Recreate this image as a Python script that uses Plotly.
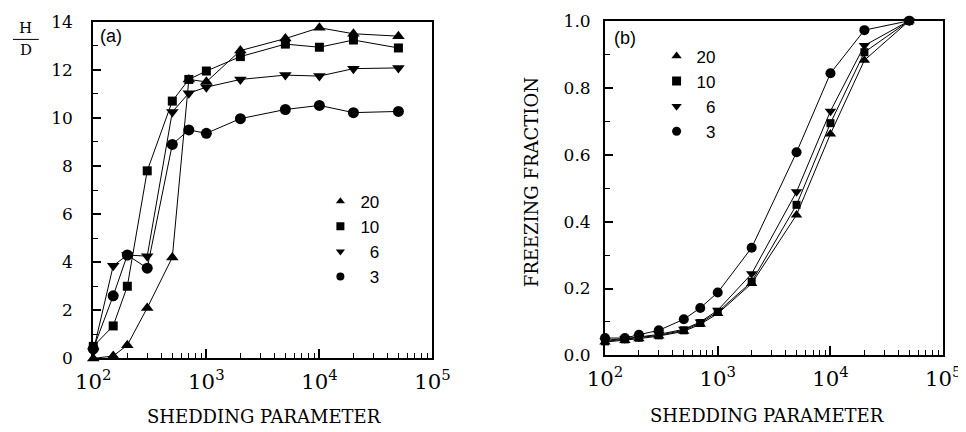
import plotly.graph_objects as go

# ---- data ----
shedding = [100, 150, 200, 300, 500, 700, 1000, 2000, 5000, 10000, 20000, 50000]

hd_20 = [0.0, 0.1, 0.55, 2.1, 4.2, 11.6, 11.5, 12.8, 13.3, 13.75, 13.5, 13.4]
hd_10 = [0.5, 1.35, 3.0, 7.8, 10.7, 11.6, 11.95, 12.55, 13.07, 12.94, 13.24, 12.91]
hd_6 = [0.3, 3.85, 4.3, 4.25, 10.25, 11.03, 11.28, 11.6, 11.78, 11.74, 12.05, 12.08]
hd_3 = [0.4, 2.6, 4.3, 3.75, 8.9, 9.5, 9.36, 9.97, 10.35, 10.52, 10.22, 10.27]

ff_20 = [0.04, 0.045, 0.05, 0.058, 0.072, 0.093, 0.125, 0.215, 0.42, 0.662, 0.882, 1.0]
ff_10 = [0.042, 0.048, 0.053, 0.06, 0.075, 0.097, 0.13, 0.22, 0.45, 0.694, 0.906, 1.0]
ff_6 = [0.045, 0.05, 0.055, 0.063, 0.078, 0.1, 0.135, 0.244, 0.489, 0.73, 0.926, 1.0]
ff_3 = [0.052, 0.052, 0.062, 0.075, 0.108, 0.142, 0.188, 0.322, 0.607, 0.843, 0.972, 1.0]

series_names = ["20", "10", "\u20076", "\u20073"]
symbols = ["triangle-up", "square", "triangle-down", "circle"]
marker_sizes = [11, 9, 11, 11]

# reference frame size, and figure size that fits inside the page's body margin
REF_W, REF_H = 966, 432
W, H = 958, 424
SERIF = "DejaVu Serif"
SANS = "Liberation Sans"

fig = go.Figure()

for ys, name, sym, ms in zip([hd_20, hd_10, hd_6, hd_3], series_names, symbols, marker_sizes):
    fig.add_trace(go.Scatter(x=shedding, y=ys, mode="lines+markers", xaxis="x", yaxis="y",
                             line=dict(color="black", width=1),
                             marker=dict(symbol=sym, size=ms, color="black"),
                             showlegend=False, cliponaxis=False))
    fig.add_trace(go.Scatter(x=[None], y=[None], mode="markers", xaxis="x", yaxis="y",
                             marker=dict(symbol=sym, size=8, color="black"),
                             name=name, legend="legend"))

for ys, name, sym, ms in zip([ff_20, ff_10, ff_6, ff_3], series_names, symbols, marker_sizes):
    fig.add_trace(go.Scatter(x=shedding, y=ys, mode="lines+markers", xaxis="x2", yaxis="y2",
                             line=dict(color="black", width=1),
                             marker=dict(symbol=sym, size=ms - 1, color="black"),
                             showlegend=False, cliponaxis=False))
    fig.add_trace(go.Scatter(x=[None], y=[None], mode="markers", xaxis="x2", yaxis="y2",
                             marker=dict(symbol=sym, size=9, color="black"),
                             name=name, legend="legend2"))


def px_x(p):
    return p / REF_W


def px_y(p):
    return 1 - p / REF_H


dom_xa = [px_x(86), px_x(428)]
dom_ya = [px_y(357), px_y(14)]
dom_xb = [px_x(602), px_x(943)]
dom_yb = [px_y(354), px_y(13)]

tickfont = dict(family=SERIF, size=17, color="black")
minor_log = dict(ticks="inside", ticklen=5, tickcolor="black", tickwidth=1, dtick="D1", showgrid=False)

base = dict(showline=True, linecolor="black", linewidth=2, mirror=True, automargin=False,
            ticks="inside", tickcolor="black", tickwidth=1.5, showgrid=False, zeroline=False)

x_main = dict(base, type="log", range=[2, 5], dtick=1, exponentformat="power", showexponent="all",
              ticklen=9, tickfont=tickfont, ticklabelstandoff=4, minor=minor_log)
x_top = dict(type="log", range=[2, 5], dtick=1, ticks="inside", ticklen=9, automargin=False,
             tickcolor="black", tickwidth=1.5, showticklabels=False, showgrid=False,
             zeroline=False, showline=False, side="top", minor=minor_log)


def y_main(rng, step, fmt, dtick_minor, dom, anchor, standoff):
    return dict(base, range=rng, tick0=0, dtick=step, tickformat=fmt, ticklen=8,
                domain=dom, anchor=anchor, tickfont=tickfont, ticklabelstandoff=standoff,
                minor=dict(ticks="inside", ticklen=5, tickcolor="black", tickwidth=1,
                           dtick=dtick_minor, showgrid=False))


def y_right(rng, step, dtick_minor, anchor, overlay):
    return dict(range=rng, tick0=0, dtick=step, ticks="inside", ticklen=8, tickcolor="black",
                tickwidth=1.5, showticklabels=False, showgrid=False, zeroline=False,
                showline=False, side="right", anchor=anchor, overlaying=overlay, automargin=False,
                minor=dict(ticks="inside", ticklen=5, tickcolor="black", tickwidth=1,
                           dtick=dtick_minor, showgrid=False))


fig.update_layout(
    template="none",
    width=W, height=H, margin=dict(l=0, r=0, t=0, b=0, autoexpand=False),
    paper_bgcolor="white", plot_bgcolor="white",
    xaxis=dict(x_main, domain=dom_xa, anchor="y"),
    yaxis=y_main([0, 14], 2, "d", 1, dom_ya, "x", 15),
    xaxis2=dict(x_main, domain=dom_xb, anchor="y2"),
    yaxis2=y_main([0, 1], 0.2, ".1f", 0.1, dom_yb, "x2", 9),
    xaxis3=dict(x_top, overlaying="x", anchor="y"),
    yaxis3=y_right([0, 14], 2, 1, "x", "y"),
    xaxis4=dict(x_top, overlaying="x2", anchor="y2"),
    yaxis4=y_right([0, 1], 0.2, 0.1, "x2", "y2"),
    legend=dict(x=px_x(315), y=px_y(179), xanchor="left", yanchor="top",
                font=dict(family=SANS, size=17, color="black"),
                bgcolor="rgba(0,0,0,0)", borderwidth=0, tracegroupgap=0, itemwidth=30),
    legend2=dict(x=px_x(654), y=px_y(31), xanchor="left", yanchor="top",
                 font=dict(family=SANS, size=17, color="black"),
                 bgcolor="rgba(0,0,0,0)", borderwidth=0, tracegroupgap=0, itemwidth=30),
    annotations=[
        dict(text="SHEDDING PARAMETER", x=px_x(258), y=px_y(416), xref="paper", yref="paper",
             showarrow=False, xanchor="center", yanchor="middle",
             font=dict(family=SERIF, size=18, color="black")),
        dict(text="SHEDDING PARAMETER", x=px_x(765), y=px_y(415), xref="paper", yref="paper",
             showarrow=False, xanchor="center", yanchor="middle",
             font=dict(family=SERIF, size=18, color="black")),
        dict(text="FREEZING FRACTION", x=px_x(528), y=px_y(178), xref="paper", yref="paper",
             showarrow=False, xanchor="center", yanchor="middle", textangle=-90,
             font=dict(family=SERIF, size=18, color="black")),
        dict(text="(a)", x=px_x(104), y=px_y(29), xref="paper", yref="paper", showarrow=False,
             xanchor="center", yanchor="middle",
             font=dict(family=SANS, size=18, color="black")),
        dict(text="(b)", x=px_x(622), y=px_y(31), xref="paper", yref="paper", showarrow=False,
             xanchor="center", yanchor="middle",
             font=dict(family=SANS, size=18, color="black")),
        dict(text="H", x=px_x(18), y=px_y(20), xref="paper", yref="paper", showarrow=False,
             xanchor="center", yanchor="middle",
             font=dict(family=SERIF, size=15, color="black")),
        dict(text="D", x=px_x(18), y=px_y(43), xref="paper", yref="paper", showarrow=False,
             xanchor="center", yanchor="middle",
             font=dict(family=SERIF, size=15, color="black")),
    ],
    shapes=[dict(type="line", xref="paper", yref="paper", x0=px_x(5), x1=px_x(31),
                 y0=px_y(32), y1=px_y(32), line=dict(color="black", width=1))],
)

fig.write_html("out.html")
